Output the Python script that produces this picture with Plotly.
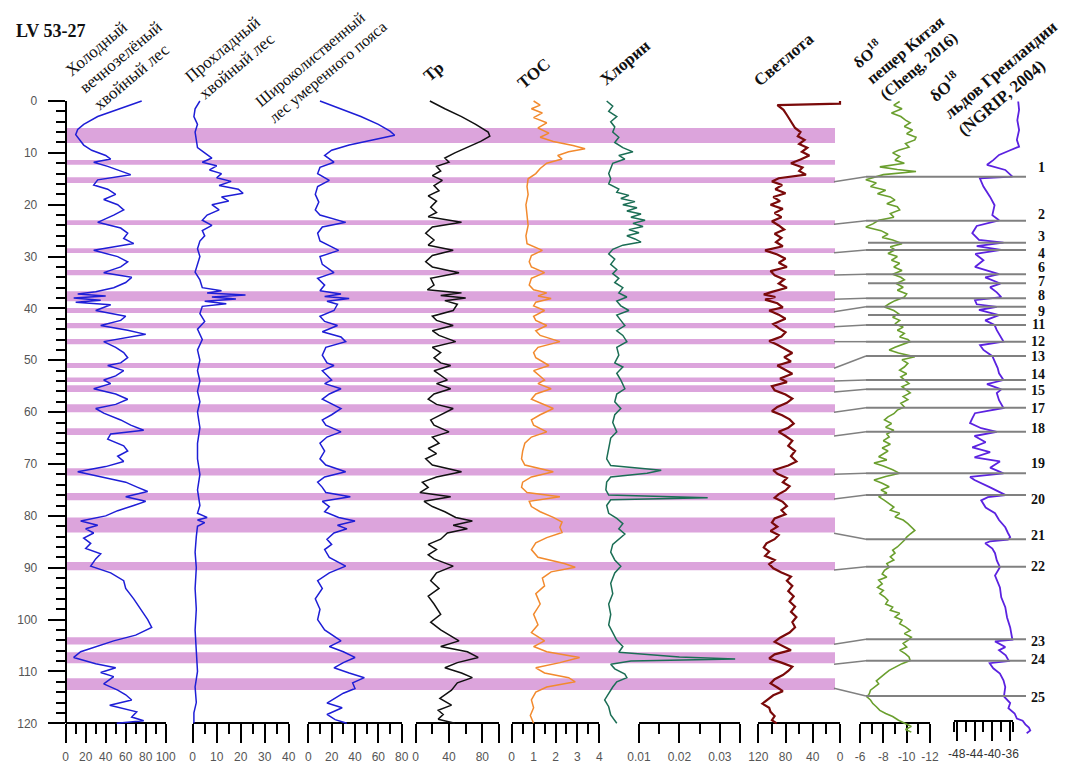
import plotly.graph_objects as go

# ------------------------------------------------------------------ data
cold_depth = [0, 1.5, 3, 4.5, 5.5, 6.5, 7.5, 8.5, 9.5, 10.5, 11.2, 11.8, 12.6, 13.5, 14.2, 15.2, 16.2, 17, 18, 19,
              20, 21, 22, 23.4, 24.5, 25.5, 26.5, 27.5, 28.8, 30, 31, 32, 33.1, 34, 35, 36, 36.8, 37.2, 37.6, 38,
              38.4, 38.8, 39.3, 40.4, 41.5, 42.3, 43.3, 44.2, 45, 46.4, 47.5, 48.5, 49.5, 50.5, 51, 52, 53, 53.8, 54.5, 55.5,
              56.5, 57.5, 58.5, 59.3, 60.2, 61.5, 62.5, 63.5, 64.2, 65.2, 66.5, 67.5, 68.5, 69.5, 70.5, 71.5, 72.5, 73.5, 74.5, 75.3,
              76.3, 77.2, 78, 79, 80, 81, 81.8, 82.5, 83.3, 84.3, 85.3, 86.3, 87.3, 88.3, 89.7, 91, 92.5, 94, 96, 98,
              100, 101.5, 103, 104.1, 105.2, 106.2, 107.3, 108.5, 109.3, 110.2, 111, 112.4, 113.6, 114.5, 115.5, 116.5, 117.8, 118.8, 119.5, 120]
cold_pct = [76, 55, 32, 18, 12, 10, 14, 18, 26, 40, 45, 28, 42, 55, 65, 32, 28, 42, 50, 38,
            52, 58, 48, 32, 55, 62, 58, 68, 28, 52, 62, 55, 38, 66, 60, 48, 30, 12, 40, 8,
            35, 10, 45, 30, 60, 55, 35, 62, 80, 38, 50, 58, 62, 55, 42, 58, 50, 38, 45, 28,
            50, 62, 50, 30, 38, 55, 65, 78, 45, 42, 58, 62, 52, 58, 40, 12, 35, 60, 72, 82,
            60, 80, 68, 52, 40, 15, 32, 20, 28, 18, 25, 20, 35, 30, 25, 45, 58, 60, 68, 75,
            82, 86, 70, 48, 30, 15, 8, 30, 50, 35, 48, 38, 52, 60, 66, 44, 71, 66, 78, 51]

cool_depth = [0, 1.5, 3, 4.5, 6, 7.5, 9, 10, 11, 11.8, 12.5, 13.3, 14, 14.8, 15.5, 16.3, 17, 17.8, 18.5, 19.3,
              20, 21, 22, 23, 24, 25, 26, 27, 28.5, 30, 31.5, 33, 34.5, 36, 36.6, 37, 37.4, 37.8, 38.2, 38.6,
              39.1, 39.6, 41, 42.5, 44, 46, 48, 50, 52, 54, 56, 58, 60, 63, 66, 69, 72, 75, 78, 79.5,
              80.3, 80.8, 81.3, 82, 84, 87, 90, 94, 98, 102, 106, 110, 113, 116, 118, 120]
cool_pct = [3, 1, 0.5, 2, 1, 1.5, 2, 5, 8, 4, 10, 7, 12, 10, 16, 11, 19, 21, 12, 15,
            8, 11, 6, 4, 8, 4, 5, 3, 2, 3, 2, 1, 3, 4, 12, 6, 22, 8, 18, 5,
            14, 4, 3, 5, 2, 4, 2, 3, 2, 3, 2, 3, 2, 3, 2, 2, 3, 2, 3, 2,
            6, 2, 5, 2, 1.5, 1, 1.5, 1, 1.5, 1, 1.5, 2, 1, 1.5, 0.5, 0.5]

broad_depth = [0, 1.5, 3, 4.5, 5.8, 6.6, 7.5, 8.5, 9.5, 10.5, 11.8, 12.8, 14, 15.3, 16.5, 18, 19.5, 21, 22, 23.4,
               24.3, 25.5, 27, 28.8, 30, 31.5, 33.1, 34.2, 35.5, 36.6, 37.2, 37.7, 38.1, 38.6, 39.2, 40.4, 41.5, 42.5, 43.3, 44.5,
               45.5, 46.4, 47.5, 49, 50.5, 51, 52, 53.8, 54.5, 55.5, 56.5, 57.5, 59.3, 60.5, 61.5, 62.5, 63.8, 64.8, 66, 67.5,
               69, 70.2, 71.5, 72.5, 73.5, 74.5, 75.5, 76.3, 77.2, 78.2, 79.2, 80.3, 81, 81.8, 82.5, 83.3, 84.5, 85.5, 86.5, 88,
               89.7, 91, 92.5, 94, 96, 98, 100, 102, 104.1, 105.2, 106.2, 107.3, 108.3, 109.3, 110.3, 111.2, 112.2, 113.3, 114.2, 115.2,
               116.1, 117, 118.3, 119.3, 120]
broad_pct = [10, 28, 45, 60, 70, 74, 55, 35, 20, 14, 22, 10, 8, 18, 8, 6, 9, 6, 10, 32,
             12, 8, 10, 26, 10, 12, 22, 8, 14, 10, 28, 14, 35, 16, 25, 22, 10, 14, 25, 12,
             28, 32, 15, 12, 16, 22, 12, 20, 14, 28, 18, 12, 28, 20, 12, 15, 28, 16, 10, 14,
             10, 15, 32, 14, 8, 12, 15, 36, 12, 18, 14, 26, 40, 25, 33, 22, 16, 20, 14, 18,
             32, 18, 8, 12, 6, 10, 8, 14, 28, 18, 30, 40, 30, 22, 35, 48, 38, 40, 30, 22,
             16, 29, 16, 23, 33]

tr_depth = [0, 1.5, 3, 4.5, 6, 6.8, 7.8, 9, 10, 11, 11.8, 12.6, 13.5, 14.4, 15.3, 16.3, 17.3, 18.3, 19.3, 20.5,
            21.5, 22.3, 23.4, 24.3, 25.5, 26.8, 27.8, 28.8, 29.8, 31, 32, 33.1, 34.2, 35.5, 36.4, 37, 37.5, 38, 38.5, 39.2,
            40.4, 41.5, 42.3, 43.3, 44.3, 45.2, 46.4, 47.5, 48.5, 49.5, 50.5, 51, 52, 53.8, 54.5, 55.5, 56.5, 57.5, 58.5, 59.3,
            60.5, 61.5, 62.5, 63.8, 64.8, 66, 67, 68, 69, 70.2, 71.5, 72.5, 73.5, 74.5, 75.5, 76.3, 77.2, 78.2, 79.2, 80.3,
            81, 81.8, 82.5, 83.3, 84.5, 85.5, 86.5, 87.5, 88.3, 89.7, 91, 92.5, 94, 95.5, 97, 99, 100.5, 102, 104.1, 105.2,
            106.2, 107.3, 108.3, 109.3, 110.3, 111.2, 112.2, 113.6, 115.2, 116.5, 117.5, 118.3, 119.2, 120]
tr_val = [17, 35, 55, 72, 87, 89, 78, 60, 47, 35, 40, 25, 30, 20, 32, 22, 28, 15, 25, 18,
          25, 15, 55, 20, 12, 22, 15, 45, 20, 12, 20, 52, 18, 22, 14, 55, 30, 60, 35, 50,
          45, 20, 25, 45, 20, 28, 48, 20, 30, 22, 30, 42, 22, 38, 25, 42, 22, 15, 25, 45,
          30, 18, 22, 40, 20, 28, 15, 25, 12, 20, 55, 25, 8, 15, 5, 42, 10, 20, 35, 48,
          68, 45, 62, 38, 30, 15, 25, 15, 22, 45, 25, 18, 28, 15, 22, 30, 18, 30, 52, 30,
          62, 75, 50, 35, 55, 68, 50, 43, 29, 43, 27, 33, 27, 47]

toc_depth = [0, 0.8, 1.5, 2.3, 3.2, 4.2, 5.2, 6.2, 7, 7.8, 8.6, 9.2, 9.8, 10.5, 11.2, 12, 13, 14, 15, 16.5,
             18, 20, 22, 24, 26, 27.5, 28.8, 29.8, 31, 32, 33.1, 34.2, 35.5, 36.4, 37, 37.6, 38.1, 38.8, 39.5, 40.4,
             41.5, 42.3, 43.3, 44.3, 45.2, 46.4, 47.5, 48.5, 49.5, 51, 52, 53.8, 54.5, 55.5, 56.5, 57.5, 59.3, 60.5, 61.5, 62.5,
             63.8, 64.8, 66, 67.5, 69, 70.2, 71.5, 72.5, 73.5, 74.5, 75.5, 76.3, 77.2, 78.2, 79.2, 80.3, 81.2, 82.2, 83.2, 84.2,
             85.2, 86.5, 88, 89.2, 89.9, 90.8, 92, 93.5, 95, 97, 99, 101, 102.5, 104.1, 105.2, 106.2, 107.3, 108.3, 109.3, 110.3,
             111.2, 112, 113, 114, 115.5, 117, 118.5, 120]
toc_val = [1.0, 1.3, 0.9, 1.4, 1.0, 1.6, 1.2, 1.7, 1.3, 1.9, 2.8, 3.35, 2.6, 2.1, 2.3, 1.6, 1.3, 1.1, 0.75, 0.7,
           0.75, 0.65, 0.7, 0.75, 0.65, 0.7, 1.4, 0.9, 0.8, 0.9, 1.5, 0.9, 0.8, 1.0, 1.6, 1.2, 1.8, 1.1, 1.0, 1.5,
           1.0, 1.1, 1.6, 1.1, 1.3, 2.2, 1.2, 1.0, 1.1, 1.7, 1.0, 1.5, 1.2, 1.8, 1.1, 0.9, 1.9, 1.3, 0.9, 1.0,
           1.6, 0.9, 0.6, 0.5, 0.45, 0.6, 1.9, 0.9, 0.5, 0.45, 0.7, 2.2, 0.8, 0.9, 1.3, 1.9, 2.3, 2.2, 2.3, 1.6,
           1.1, 0.9, 1.2, 2.4, 2.9, 1.8, 1.4, 1.5, 1.1, 1.3, 1.0, 1.2, 0.9, 1.5, 1.0, 1.6, 3.1, 2.2, 1.1, 1.5,
           2.6, 2.9, 1.6, 1.1, 0.9, 1.0, 0.85, 1.0]

chl_depth = [0, 1, 2, 3, 4, 5, 6, 7, 8, 9, 9.8, 10.5, 11.2, 12, 13, 14, 15, 16, 17, 17.6,
             18.2, 18.8, 19.4, 20, 20.6, 21.2, 21.8, 22.4, 23, 23.6, 24.2, 24.8, 25.4, 26, 26.6, 27.2, 27.8, 28.6, 29.5, 30.5,
             31.5, 32.5, 33.3, 34.2, 35, 36, 37, 37.8, 38.6, 39.5, 40.4, 41.3, 42.3, 43.3, 44.3, 45.2, 46.4, 47.5, 49, 50.5,
             51.3, 52.5, 53.8, 55.5, 56.5, 58, 59.3, 60.5, 62, 63.8, 65, 67, 69, 70.3, 71.2, 71.8, 72.5, 73.5, 75, 76,
             76.5, 76.9, 78, 79.5, 80.5, 81.5, 82.5, 83.5, 84.5, 85.5, 87, 88.5, 89.7, 91, 93, 95, 97, 99, 101, 102.5,
             104, 105.2, 106.3, 107.2, 107.6, 108.0, 108.6, 109.5, 110.5, 111.2, 112, 113, 113.6, 115.5, 116.8, 118.4, 120]
chl_val = [0.0020, 0.0035, 0.0025, 0.0045, 0.0030, 0.0040, 0.0035, 0.0050, 0.0040, 0.0060,
           0.0085, 0.0050, 0.0065, 0.0035, 0.0030, 0.0025, 0.0030, 0.0025, 0.0050, 0.0045,
           0.0075, 0.0055, 0.0090, 0.0060, 0.0095, 0.0070, 0.0105, 0.0080, 0.0115, 0.0085,
           0.0110, 0.0075, 0.0100, 0.0070, 0.0090, 0.0105, 0.0060, 0.0035, 0.0025, 0.0040,
           0.0030, 0.0045, 0.0035, 0.0050, 0.0040, 0.0060, 0.0050, 0.0070, 0.0045, 0.0055,
           0.0075, 0.0045, 0.0055, 0.0065, 0.0045, 0.0060, 0.0070, 0.0045, 0.0050, 0.0040,
           0.0060, 0.0045, 0.0055, 0.0065, 0.0045, 0.0040, 0.0055, 0.0040, 0.0035, 0.0045,
           0.0030, 0.0025, 0.0020, 0.0030, 0.0155, 0.0120, 0.0030, 0.0020, 0.0018, 0.0025,
           0.0270, 0.0030, 0.0020, 0.0025, 0.0045, 0.0060, 0.0050, 0.0065, 0.0050, 0.0035,
           0.0030, 0.0040, 0.0055, 0.0040, 0.0030, 0.0035, 0.0025, 0.0030, 0.0025, 0.0035,
           0.0045, 0.0060, 0.0050, 0.0200, 0.0338, 0.0080, 0.0030, 0.0040, 0.0065, 0.0070,
           0.0045, 0.0035, 0.0030, 0.0015, 0.0025, 0.0030, 0.0045]

light_depth = [0, 0.5, 0.8, 1.7, 2.7, 3.7, 4.5, 5.2, 6, 6.8, 7.5, 8.3, 9, 9.8, 10.5, 11.3, 12, 12.8, 13.5, 14.2,
               14.9, 15.5, 16.2, 17, 17.8, 18.5, 19.3, 20, 20.8, 21.6, 22.4, 23.2, 24, 24.8, 25.6, 26.4, 27.2, 28, 28.8, 29.6,
               30.4, 31.2, 32, 32.8, 33.6, 34.4, 35.2, 36, 36.8, 37.3, 37.8, 38.3, 39, 39.8, 40.4, 41.2, 42, 43, 43.8, 44.6,
               45.4, 46.3, 47, 47.8, 48.6, 49.4, 50.2, 51, 51.8, 52.6, 53.5, 54.2, 55, 55.8, 56.6, 57.4, 58.2, 59, 59.8, 60.6,
               61.4, 62.2, 63, 63.8, 64.6, 65.5, 66.5, 67.5, 68.5, 69.5, 70.3, 71.2, 71.9, 72.7, 73.5, 74.3, 75.1, 75.8, 76.5, 77.3,
               78.1, 78.9, 79.7, 80.5, 81.3, 82.1, 82.9, 83.7, 84.5, 85.3, 86.1, 86.9, 87.7, 88.5, 89.3, 90.1, 90.9, 91.7, 92.5, 93.5,
               94.5, 95.5, 96.5, 97.5, 98.5, 99.5, 100.5, 101.5, 102.5, 103.5, 104.3, 105.1, 105.9, 106.7, 107.5, 108.3, 109.1, 109.9, 110.7, 111.5,
               112.3, 113.1, 113.8, 114.6, 115.4, 116.2, 117, 117.8, 118.6, 119.4, 120]
light_val = [0, 0, 92, 83, 78, 73, 70, 66, 58, 62, 52, 60, 48, 56, 45, 58, 72, 55, 60, 50,
             90, 100, 85, 95, 80, 98, 88, 102, 84, 96, 86, 100, 90, 82, 96, 86, 94, 84, 110, 92,
             80, 90, 78, 102, 96, 82, 90, 78, 100, 112, 95, 110, 92, 84, 104, 90, 80, 98, 90, 80,
             86, 104, 92, 80, 70, 82, 72, 92, 80, 70, 88, 78, 100, 96, 80, 70, 78, 92, 100, 85,
             74, 68, 76, 90, 80, 70, 76, 66, 72, 64, 76, 98, 92, 78, 84, 74, 80, 90, 96, 84,
             78, 86, 80, 96, 100, 92, 102, 90, 96, 108, 112, 104, 110, 96, 104, 98, 86, 72, 78, 70,
             76, 68, 74, 66, 72, 64, 70, 66, 74, 88, 96, 84, 72, 96, 104, 86, 70, 76, 84, 96,
             102, 92, 84, 98, 106, 114, 104, 102, 96, 100, 93]

cave_pos = [0.1, 0.8, 1.5, 2.3, 3.0, 3.7, 4.2, 4.9, 5.6, 6.3, 7.0, 7.5, 8.2, 8.9, 9.5, 10.0, 10.7, 11.4, 12.0, 12.7,
            13.2, 13.6, 14.2, 14.8, 15.2, 15.8, 16.5, 17.2, 17.9, 18.5, 19.1, 19.8, 20.4, 21.0, 21.7, 22.4, 23.0, 23.7, 24.3, 25.0,
            25.7, 26.3, 26.8, 27.5, 28.1, 28.7, 29.4, 30.0, 30.7, 31.3, 32.0, 32.7, 33.4, 34.0, 34.5, 35.2, 35.9, 36.5, 37.2, 37.8,
            38.5, 39.1, 39.7, 40.4, 41.0, 41.7, 42.3, 43.0, 43.6, 44.2, 44.8, 45.5, 46.0, 46.4, 47.0, 47.5, 48.0, 48.6, 49.3, 49.9,
            50.6, 51.3, 51.9, 52.6, 53.2, 53.8, 54.5, 55.1, 55.7, 56.3, 57.0, 57.6, 58.3, 59.0, 59.6, 60.3, 60.9, 61.5, 62.2, 62.9,
            63.5, 64.2, 64.8, 65.5, 66.2, 66.9, 67.5, 67.9, 68.6, 69.2, 69.8, 70.4, 71.1, 71.8, 72.4, 73.1, 73.7, 74.4, 75.0, 75.6,
            76.3, 77.0, 77.6, 78.3, 78.9, 79.5, 80.2, 80.8, 81.5, 82.2, 82.8, 83.5, 84.1, 84.7, 85.4, 86.0, 86.6, 87.2, 87.9, 88.5,
            89.2, 89.9, 90.5, 91.2, 91.8, 92.4, 93.1, 93.8, 94.4, 95.0, 95.6, 96.3, 97.0, 97.6, 98.2, 98.8, 99.5, 100.1, 100.8, 101.4,
            102.1, 102.7, 103.4, 104.0, 104.6, 105.3, 105.9, 106.6, 107.2, 107.9, 108.5, 109.2, 109.8, 110.5, 111.1, 111.8, 112.4, 113.0, 113.6, 114.3,
            114.9, 115.5, 116.2, 116.8, 117.5, 118.1, 118.7, 119.4, 120.0, 120.6, 121.2, 121.7]
cave_d18o = [-9.4, -8.9, -9.6, -8.7, -9.5, -9.9, -10.3, -9.8, -10.5, -10.0, -10.8, -10.7, -9.9, -10.2, -9.3, -8.8, -9.4, -9.0, -9.8, -7.7,
             -9.2, -10.8, -8.0, -7.0, -6.5, -7.4, -6.9, -8.2, -7.5, -8.6, -9.0, -8.3, -9.2, -9.4, -8.6, -8.9, -7.6, -7.1, -6.5, -7.8,
             -8.4, -7.9, -8.8, -9.6, -8.6, -9.0, -8.4, -9.2, -8.7, -9.4, -8.9, -9.6, -8.8, -9.5, -9.8, -9.1, -9.7, -9.2, -10.0, -9.8,
             -9.0, -8.5, -8.1, -8.9, -9.3, -8.8, -9.4, -9.0, -9.7, -9.2, -9.8, -9.4, -10.1, -10.3, -9.5, -9.0, -8.5, -9.3, -10.7, -9.6,
             -10.1, -9.8, -9.4, -10.0, -9.5, -9.8, -10.2, -9.6, -10.0, -10.3, -9.7, -10.1, -9.5, -9.8, -9.2, -8.9, -8.4, -8.1, -8.7, -8.2,
             -8.9, -8.3, -8.5, -8.0, -8.6, -7.9, -8.4, -8.1, -7.6, -8.3, -7.2, -8.0, -8.8, -9.4, -8.2, -7.2, -7.9, -8.5, -7.8, -8.3,
             -7.6, -8.1, -8.5, -8.9, -8.6, -9.4, -9.0, -9.7, -10.1, -10.4, -10.7, -10.3, -10.0, -9.8, -9.5, -9.2, -8.8, -9.0, -8.6, -8.9,
             -8.3, -8.5, -8.1, -7.9, -8.3, -7.6, -7.9, -7.5, -8.0, -7.7, -8.1, -8.4, -8.2, -8.8, -8.6, -9.4, -9.0, -9.6, -9.4, -9.9,
             -10.3, -9.8, -10.4, -10.1, -9.7, -10.0, -9.4, -9.9, -10.2, -10.3, -9.6, -9.0, -8.5, -8.1, -7.8, -7.4, -7.6, -7.2, -6.9, -6.8,
             -6.6, -6.9, -7.1, -7.4, -7.7, -8.2, -8.8, -9.3, -9.8, -10.4, -9.9, -10.4]

ngrip_pos = [0.1, 1.7, 3.7, 5.6, 7.5, 8.8, 9.5, 10.4, 11.4, 12.3, 13.3, 14.3, 14.6, 14.9, 16.5, 18.5, 20.1, 22.0, 23.0, 24.1,
             25.5, 26.8, 27.3, 28.0, 28.7, 29.5, 30.7, 32.0, 33.4, 34.0, 35.2, 35.9, 36.9, 37.8, 38.4, 39.2, 39.7, 40.3, 41.3, 42.3,
             43.2, 44.2, 45.5, 46.4, 47.1, 48.0, 49.2, 50.4, 51.5, 52.5, 53.8, 54.6, 55.6, 56.3, 57.7, 59.2, 60.2, 61.2, 62.1, 63.1,
             63.8, 64.6, 65.8, 66.8, 67.7, 68.7, 69.5, 70.7, 71.8, 72.5, 73.1, 74.5, 76.0, 76.4, 77.0, 78.4, 79.5, 80.8, 82.2, 83.3,
             84.1, 84.6, 84.9, 85.3, 86.3, 87.2, 88.6, 89.9, 91.5, 93.8, 95.7, 97.6, 99.6, 101.5, 103.4, 103.9, 104.2, 105.3, 105.9, 106.9,
             108.0, 108.4, 109.4, 110.4, 111.7, 113.0, 114.8, 116.1, 117.1, 118.1, 119.1, 119.5, 120.2, 120.8, 121.4, 121.9]
ngrip_d18o = [-34.2, -34.0, -34.4, -34.0, -34.5, -34.0, -36.0, -38.5, -39.8, -41.2, -37.1, -35.7, -35.5, -42.8, -42.0, -40.5, -39.5, -40.0, -38.5, -43.5,
              -44.5, -43.0, -37.5, -43.5, -38.0, -43.8, -42.0, -43.9, -38.5, -41.6, -38.2, -40.5, -39.0, -38.0, -43.9, -43.5, -39.0, -43.0, -38.5, -41.6,
              -39.5, -39.0, -38.0, -37.5, -42.75, -42.0, -40.0, -39.4, -38.8, -38.5, -37.5, -41.2, -38.0, -39.0, -38.5, -37.5, -43.9, -44.5, -45.0, -42.5,
              -39.0, -44.0, -41.5, -44.5, -40.5, -44.0, -38.3, -40.5, -37.5, -45.0, -44.0, -40.5, -37.0, -41.0, -42.5, -41.5, -39.4, -38.5, -37.1, -36.5,
              -36.0, -36.5, -40.5, -41.6, -40.0, -39.4, -39.0, -38.3, -39.4, -38.3, -38.0, -37.1, -36.7, -36.0, -35.6, -35.5, -39.4, -37.1, -38.5, -37.0,
              -36.3, -40.6, -39.8, -38.3, -37.5, -37.1, -37.4, -36.0, -36.4, -35.0, -34.5, -33.2, -32.6, -31.8, -31.5, -32.3]

band_top = [5.2, 11.4, 14.7, 23.0, 28.4, 32.6, 36.7, 39.9, 42.8, 45.9, 50.5, 53.3, 54.8, 58.5, 63.1, 70.8, 75.6, 80.3, 88.9, 103.4, 106.3, 111.3]
band_bottom = [8.1, 12.3, 15.8, 23.9, 29.3, 33.6, 38.6, 40.9, 43.8, 46.9, 51.5, 54.2, 56.1, 60.0, 64.4, 72.2, 77.0, 83.2, 90.5, 104.8, 108.4, 113.6]

event_depth = [14.60, 23.08, 27.32, 28.73, 33.42, 35.15, 38.05, 39.67, 41.27, 43.19, 46.41, 49.17, 53.80, 55.59, 59.14,
               63.77, 71.79, 75.98, 84.52, 89.80, 103.80, 107.93, 114.73]
event_link_depth = [15.56, 23.78, None, 29.25, 33.55, None, 38.24, 40.63, None, 43.52, 46.41, 51.54, 53.99, 56.11, 60.03,
                    64.60, 71.98, 76.75, 83.36, 90.44, 104.76, 108.62, 113.25]
event_label = ['1', '2', '3', '4', '6', '7', '8', '', '9', '11', '12', '13', '14', '15', '17',
               '18', '19', '20', '21', '22', '23', '24', '25']

# ------------------------------------------------------------------ layout helpers
# The page body has an 8 px margin: the figure is made 8 px smaller on each
# axis and every screen position below is shifted by that margin.
SCREEN_W, SCREEN_H = 1067, 765
OFF = 8
W, H = SCREEN_W - OFF, SCREEN_H - OFF
Y0_PX, Y120_PX = 101.0, 723.3
PX_PER_M = (Y120_PX - Y0_PX) / 120.0


def fx(px):
    return (px - OFF) / W


def fy(py):
    return 1 - (py - OFF) / H


def depth_at(py):
    return (py - Y0_PX) / PX_PER_M


# label offsets (in depth units) relative to each event line
label_shift = [-1.87, -1.10, -1.10, 0.77, -1.35, -0.34, -0.45, 0, -0.75, -0.05, -0.13, 0.19, -0.97, 0.33, 0.15,
               -0.62, -1.89, 0.86, -0.64, 0.0, 0.46, -0.28, 0.25]

SANS = "Liberation Sans, Arial, sans-serif"
SERIF = "Liberation Serif, Times New Roman, serif"
TICKCOL = "#555555"

# panel: depth, values, px_a, px_b, v_a, v_b, axis_y, tickvals, ticktext, minor, color, width, ext_l, ext_r
panels = [
    (cold_depth, cold_pct, 65.7, 165.7, 0, 100, Y120_PX, [0, 20, 40, 60, 80, 100], None, [10, 30, 50, 70, 90], "#1e1ed6", 1.5, 10, 20),
    (cool_depth, cool_pct, 192.7, 288.7, 0, 40, Y120_PX, [0, 10, 20, 30, 40], None, [5, 15, 25, 35], "#1e1ed6", 1.5, 10, 15),
    (broad_depth, broad_pct, 308.3, 401.7, 0, 80, Y120_PX, [0, 20, 40, 60, 80], None, [10, 30, 50, 70], "#1e1ed6", 1.5, 10, 15),
    (tr_depth, tr_val, 415.7, 499.0, 0, 100, Y120_PX, [0, 40, 80, 100], ['0', '40', '80', ''], [20, 60], "#111111", 1.5, 12, 10),
    (toc_depth, toc_val, 511.7, 599.3, 0, 4, Y120_PX, [0, 1, 2, 3, 4], None, [0.5, 1.5, 2.5, 3.5], "#f28a2e", 1.5, 10, 10),
    (chl_depth, chl_val, 639.0, 740.0, 0.01, 0.035, Y120_PX, [0.01, 0.02, 0.03, 0.035], ['0.01', '0.02', '0.03', ''], [0.015, 0.025], "#1b6e55", 1.5, 45, 10),
    (light_depth, light_val, 758.3, 840.0, 120, 0, Y120_PX, [120, 80, 40, 0], None, [100, 60, 20], "#7a0a0a", 2.2, 10, 10),
    (cave_pos, cave_d18o, 860.0, 930.0, -6, -12, Y120_PX, [-6, -8, -10, -12], None, [-7, -9, -11], "#6a9f2e", 1.6, 15, 15),
    (ngrip_pos, ngrip_d18o, 954.0, 1013.3, -48.6, -35.3, 720.7, [-48, -44, -40, -36], None, [-48.6, -46, -42, -38, -35.3], "#5b22e0", 1.8, 20, 30),
]

fig = go.Figure()
layout = {}
EXT_TOP, EXT_BOT = 92.0, 745.0
layout["yaxis2"] = dict(domain=[fy(EXT_BOT), fy(EXT_TOP)], range=[depth_at(EXT_BOT), depth_at(EXT_TOP)],
                        visible=False, anchor="free", position=0)
layout["yaxis"] = dict(domain=[fy(Y120_PX), fy(Y0_PX)], range=[120, 0], anchor="free", position=fx(65.7),
                       showline=True, linewidth=2, linecolor="black", showgrid=False, zeroline=False,
                       ticks="outside", ticklen=17, tickwidth=2, tickcolor="black", automargin=False,
                       tickmode="array", tickvals=list(range(0, 121, 10)),
                       minor=dict(tickmode="array", tickvals=[v for v in range(0, 121, 2) if v % 10], ticks="outside",
                                  ticklen=9, tickwidth=1.5, tickcolor="black"),
                       tickfont=dict(family=SANS, size=12, color=TICKCOL), ticklabelstandoff=8)

n = len(panels)
for i, (dep, val, a, b, va, vb, axy, tv, tt, mv, col, lw, el, er) in enumerate(panels):
    vis = i + 1
    dat = i + 1 + n
    k = (vb - va) / (b - a)
    vis_name = "xaxis" if vis == 1 else f"xaxis{vis}"
    last = i == n - 1
    layout[vis_name] = dict(domain=[fx(a), fx(b)], range=[va, vb], anchor="free", position=fy(axy),
                            showline=True, linewidth=2, linecolor="black", showgrid=False, zeroline=False,
                            ticks="outside", ticklen=19, tickwidth=2, tickcolor="black",
                            automargin=False, tickangle=0,
                            tickmode="array", tickvals=tv, ticktext=tt if tt else [str(v) for v in tv],
                            minor=dict(tickmode="array", tickvals=mv, ticks="outside", ticklen=10,
                                       tickwidth=2, tickcolor="black"),
                            tickfont=dict(family=SANS, size=12, color="#333333" if last else TICKCOL),
                            ticklabelstandoff=3)
    layout[f"xaxis{dat}"] = dict(domain=[fx(a - el), fx(b + er)], range=[va - el * k, vb + er * k],
                                 visible=False, anchor="free", position=0)
    fig.add_trace(go.Scatter(x=[None], y=[None], xaxis="x" if vis == 1 else f"x{vis}", yaxis="y",
                             mode="lines", showlegend=False, hoverinfo="skip"))
    fig.add_trace(go.Scatter(x=val, y=dep, xaxis=f"x{dat}", yaxis="y2", mode="lines",
                             line=dict(color=col, width=lw), showlegend=False, hoverinfo="skip"))

shapes = []
for t, bt in zip(band_top, band_bottom):
    shapes.append(dict(type="rect", xref="paper", yref="y", x0=fx(66.7), x1=fx(835), y0=t, y1=bt,
                       fillcolor="#dca4dc", line=dict(width=0), layer="below"))

GREY = "#808080"
for d, ld in zip(event_depth, event_link_depth):
    if ld is None:
        shapes.append(dict(type="line", xref="paper", yref="y", x0=fx(868), x1=fx(1026), y0=d, y1=d,
                           line=dict(color=GREY, width=2)))
    else:
        shapes.append(dict(type="line", xref="paper", yref="y", x0=fx(834), x1=fx(866), y0=ld, y1=d,
                           line=dict(color=GREY, width=1.5)))
        shapes.append(dict(type="line", xref="paper", yref="y", x0=fx(866), x1=fx(1026), y0=d, y1=d,
                           line=dict(color=GREY, width=2)))

ann = []
for lab, d, s in zip(event_label, event_depth, label_shift):
    if lab:
        ann.append(dict(text=f"<b>{lab}</b>", xref="paper", yref="y", x=fx(1046), y=d + s,
                        xanchor="right", yanchor="middle", showarrow=False, borderpad=0,
                        font=dict(family=SERIF, size=14, color="#111111")))

# title text, centre x/y on screen, bold, font size
titles = [
    ("Холодный<br>вечнозелёный<br>хвойный лес", 120, 57, False, 17),
    ("Прохладный<br>хвойный лес", 230, 58, False, 17),
    ("Широколиственный<br>лес умеренного пояса", 321, 64, False, 16),
    ("Тр", 434, 72, True, 17),
    ("TOC", 534, 74, True, 17),
    ("Хлорин", 625, 62, True, 17),
    ("Светлота", 784, 60, True, 17),
    ("δO<sup>18</sup><br>пещер Китая<br>(Cheng, 2016)", 905, 49, True, 16),
    ("δO<sup>18</sup><br>льдов Гренландии<br>(NGRIP, 2004)", 999, 69, True, 17),
]
for txt, x, y, bold, fs in titles:
    ann.append(dict(text=f"<b>{txt}</b>" if bold else txt, xref="paper", yref="paper", x=fx(x), y=fy(y),
                    xanchor="center", yanchor="middle", showarrow=False, textangle=-40, align="left",
                    font=dict(family=SERIF, size=fs, color="#111111")))
ann.append(dict(text="<b>LV 53-27</b>", xref="paper", yref="paper", x=fx(51), y=fy(31),
                xanchor="center", yanchor="middle", showarrow=False,
                font=dict(family=SERIF, size=18, color="#111111")))

fig.update_layout(width=W, height=H, autosize=False,
                  margin=dict(l=0, r=0, t=0, b=0, pad=0, autoexpand=False),
                  paper_bgcolor="white", plot_bgcolor="rgba(0,0,0,0)", showlegend=False,
                  shapes=shapes, annotations=ann, **layout)

fig.write_html("out.html")
